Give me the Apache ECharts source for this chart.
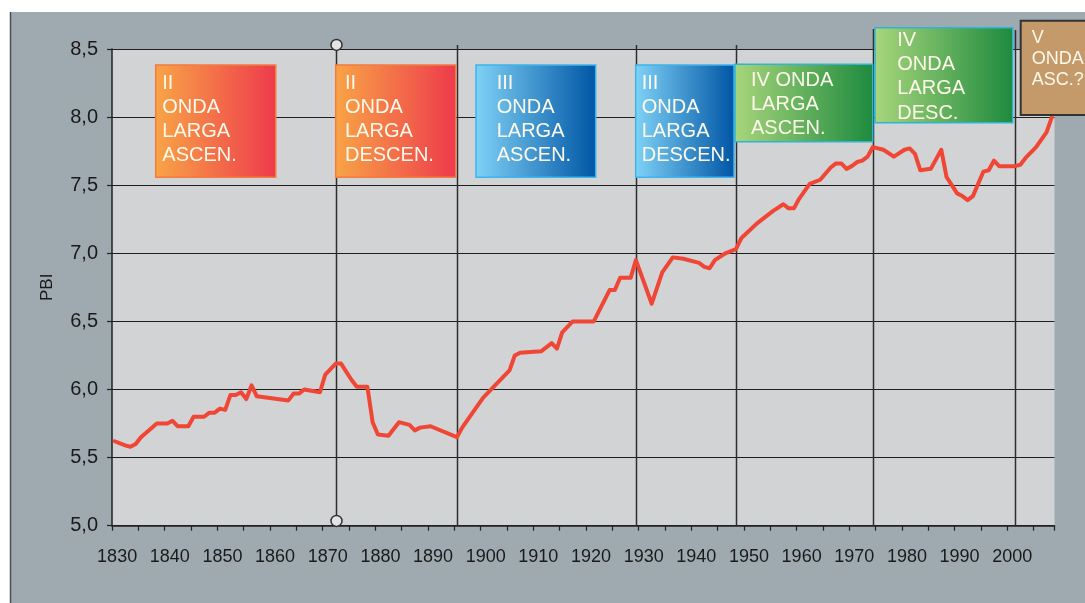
<!DOCTYPE html>
<html><head><meta charset="utf-8">
<script src="https://cdn.jsdelivr.net/npm/echarts@6/dist/echarts.min.js"></script>
<style>html,body{margin:0;padding:0;background:#fff}#c{width:1085px;height:603px}</style>
</head><body><div id="c"></div>
<script>
// ---- data ----
const categories = [];
for (let y = 1830; y <= 2008; y++) categories.push(String(y));

const pointYears = [1830,1832,1833,1834,1835,1838,1840,1841,1842,1844,1845,1847,1848,1849,1850,1851,1852,1853,1854,1855,1856,1857,1863,1864,1865,1866,1869,1870,1872,1873,1875,1876,1878,1879,1880,1882,1884,1886,1887,1888,1890,1895,1896,1900,1905,1906,1907,1911,1913,1914,1915,1917,1921,1924,1925,1926,1928,1929,1932,1934,1936,1938,1941,1942,1943,1944,1946,1948,1949,1952,1955,1957,1958,1959,1960,1962,1964,1966,1967,1968,1969,1970,1971,1972,1973,1974,1976,1978,1980,1981,1982,1983,1985,1987,1988,1990,1991,1992,1993,1995,1996,1997,1998,2001,2002,2003,2005,2007,2008];
const pbiValues = [5.62,5.59,5.58,5.60,5.65,5.75,5.75,5.77,5.73,5.73,5.80,5.80,5.83,5.83,5.86,5.85,5.96,5.96,5.98,5.93,6.03,5.95,5.92,5.97,5.97,6.00,5.98,6.11,6.19,6.19,6.07,6.02,6.02,5.76,5.67,5.66,5.76,5.74,5.70,5.72,5.73,5.65,5.72,5.94,6.14,6.25,6.27,6.28,6.34,6.30,6.42,6.50,6.50,6.73,6.73,6.82,6.82,6.95,6.63,6.86,6.97,6.96,6.93,6.90,6.89,6.95,7.00,7.03,7.11,7.22,7.31,7.36,7.33,7.33,7.40,7.51,7.54,7.63,7.66,7.66,7.62,7.64,7.67,7.68,7.71,7.78,7.76,7.71,7.76,7.77,7.73,7.61,7.62,7.76,7.56,7.44,7.42,7.39,7.42,7.60,7.61,7.68,7.64,7.64,7.65,7.70,7.78,7.89,8.00];

const xLabelYears = ['1830','1840','1850','1860','1870','1880','1890','1900','1910','1920','1930','1940','1950','1960','1970','1980','1990','2000'];
const markerYears = [1872, 1895, 1929, 1948, 1974, 2001];
const markerTops = [8.53, 8.53, 8.53, 8.53, 8.647, 8.64];
const waveLabels = [
  "II\nONDA\nLARGA\nASCEN.",
  "II\nONDA\nLARGA\nDESCEN.",
  "III\nONDA\nLARGA\nASCEN.",
  "III\nONDA\nLARGA\nDESCEN.",
  "IV ONDA\nLARGA\nASCEN.",
  "IV\nONDA\nLARGA\nDESC.",
  "V\nONDA\nASC.?"
];

// ---- chart ----
const chart = echarts.init(document.getElementById('c'), null, {renderer: 'canvas'});
const FONT = '"Liberation Sans", Arial, Helvetica, sans-serif';

const option = {
  animation: false,
  backgroundColor: '#9eaab0',
  grid: {left: 112, right: 30.5, top: 49, bottom: 77.3, show: true, backgroundColor: '#d2d3d5', borderWidth: 0},
  xAxis: {
    type: 'category', data: categories, boundaryGap: true,
    axisLine: {show: true, lineStyle: {color: '#222', width: 1.5}},
    axisTick: {show: true, interval: 4, length: 5, inside: false, lineStyle: {color: '#222', width: 1.2}},
    axisLabel: {interval: (idx, val) => xLabelYears.indexOf(val) >= 0, margin: 22, padding: [0, 0, 0, 5],
      fontSize: 18, color: '#1a1a1a', fontFamily: FONT, hideOverlap: false},
    splitLine: {show: false}
  },
  yAxis: {
    type: 'value', min: 5, max: 8.5, interval: 0.5,
    name: 'PBI', nameLocation: 'middle', nameGap: 56,
    nameTextStyle: {fontSize: 17, color: '#1a1a1a', fontFamily: FONT},
    axisLine: {show: true, lineStyle: {color: '#222', width: 1.5}},
    axisTick: {show: true, length: 5, inside: false, lineStyle: {color: '#222', width: 1.2}},
    axisLabel: {margin: 14, fontSize: 20, color: '#1a1a1a', fontFamily: FONT,
      formatter: v => v.toFixed(1).replace('.', ',')},
    splitLine: {show: true, lineStyle: {color: '#1e1e1e', width: 1.2}}
  },
  series: [{
    type: 'line', name: 'PBI',
    data: pointYears.map((y, i) => [categories.indexOf(String(y)), pbiValues[i]]),
    symbol: 'none', smooth: false, z: 5,
    lineStyle: {color: '#ef4636', width: 4, join: 'round', cap: 'round'}
  }]
};
chart.setOption(option);

// ---- annotations ----
const xp = y => chart.convertToPixel({xAxisIndex: 0}, categories.indexOf(String(y)));
const yp = v => chart.convertToPixel({yAxisIndex: 0}, v);
const grad = (a, b) => new echarts.graphic.LinearGradient(0, 0, 1, 0, [{offset: 0, color: a}, {offset: 1, color: b}]);

const boxStyles = {
  orange: {fill: () => grad('#f8a446', '#ee3a4c'), stroke: '#f47b3f', lw: 1.5},
  blue: {fill: () => grad('#7fd2f6', '#0055a5'), stroke: '#3bb5ec', lw: 1.5},
  green: {fill: () => grad('#a8d67c', '#1d8a3e'), stroke: '#2eb4d6', lw: 1.5},
  tan: {fill: () => '#c49a6b', stroke: '#333', lw: 2}
};
const boxLayout = [
  {x: 155.7, y: 65, w: 120, h: 112.3, tx: 162.3, ty: 70.9, fs: 20, lh: 24.3, s: 'orange'},
  {x: 335.7, y: 65, w: 120, h: 112.3, tx: 345, ty: 70.9, fs: 20, lh: 24.3, s: 'orange'},
  {x: 476, y: 65, w: 119.7, h: 112.3, tx: 496.7, ty: 70.9, fs: 20, lh: 24.3, s: 'blue'},
  {x: 635.7, y: 65, w: 98.3, h: 112.3, tx: 641.7, ty: 70.9, fs: 20, lh: 24.3, s: 'blue'},
  {x: 735, y: 64.3, w: 137.7, h: 77.4, tx: 751, ty: 67.9, fs: 20, lh: 24.4, s: 'green'},
  {x: 875, y: 27.7, w: 137.7, h: 95, tx: 897.3, ty: 27.9, fs: 20, lh: 24.4, s: 'green'},
  {x: 1020.7, y: 20.7, w: 80, h: 94.3, tx: 1031.7, ty: 27.8, fs: 18, lh: 21, s: 'tan'}
];

const g = [];
g.push({type: 'rect', shape: {x: 0, y: 0, width: 1085, height: 12}, style: {fill: '#fff'}, z: 50});
g.push({type: 'rect', shape: {x: 0, y: 0, width: 10, height: 603}, style: {fill: '#fff'}, z: 50});
g.push({type: 'line', shape: {x1: 10.5, y1: 12, x2: 10.5, y2: 603}, style: {stroke: '#4a4f53', lineWidth: 1.5}, z: 51});

markerYears.forEach((yr, i) => {
  const x = Math.round(xp(yr)) + 0.5;
  const bottom = i === 0 ? yp(5.035) : yp(5.0);
  g.push({type: 'line', shape: {x1: x, y1: yp(markerTops[i]), x2: x, y2: bottom},
    style: {stroke: '#2e2e2e', lineWidth: 1.5}, z: 1});
  if (i === 0) {
    [markerTops[i], 5.035].forEach(v => {
      g.push({type: 'circle', shape: {cx: x, cy: yp(v), r: 5.5},
        style: {fill: '#e4e4e4', stroke: '#333', lineWidth: 1.5}, z: 8});
    });
  }
});

boxLayout.forEach((b, i) => {
  const st = boxStyles[b.s];
  g.push({type: 'rect', shape: {x: b.x, y: b.y, width: b.w, height: b.h},
    style: {fill: st.fill(), stroke: st.stroke, lineWidth: st.lw}, z: 20});
  g.push({type: 'text', x: b.tx, y: b.ty, z: 21,
    style: {text: waveLabels[i], fill: '#fdf9ea', fontSize: b.fs, lineHeight: b.lh,
      fontFamily: FONT, verticalAlign: 'top', align: 'left'}});
});

chart.setOption({graphic: {elements: g}});
</script></body></html>
